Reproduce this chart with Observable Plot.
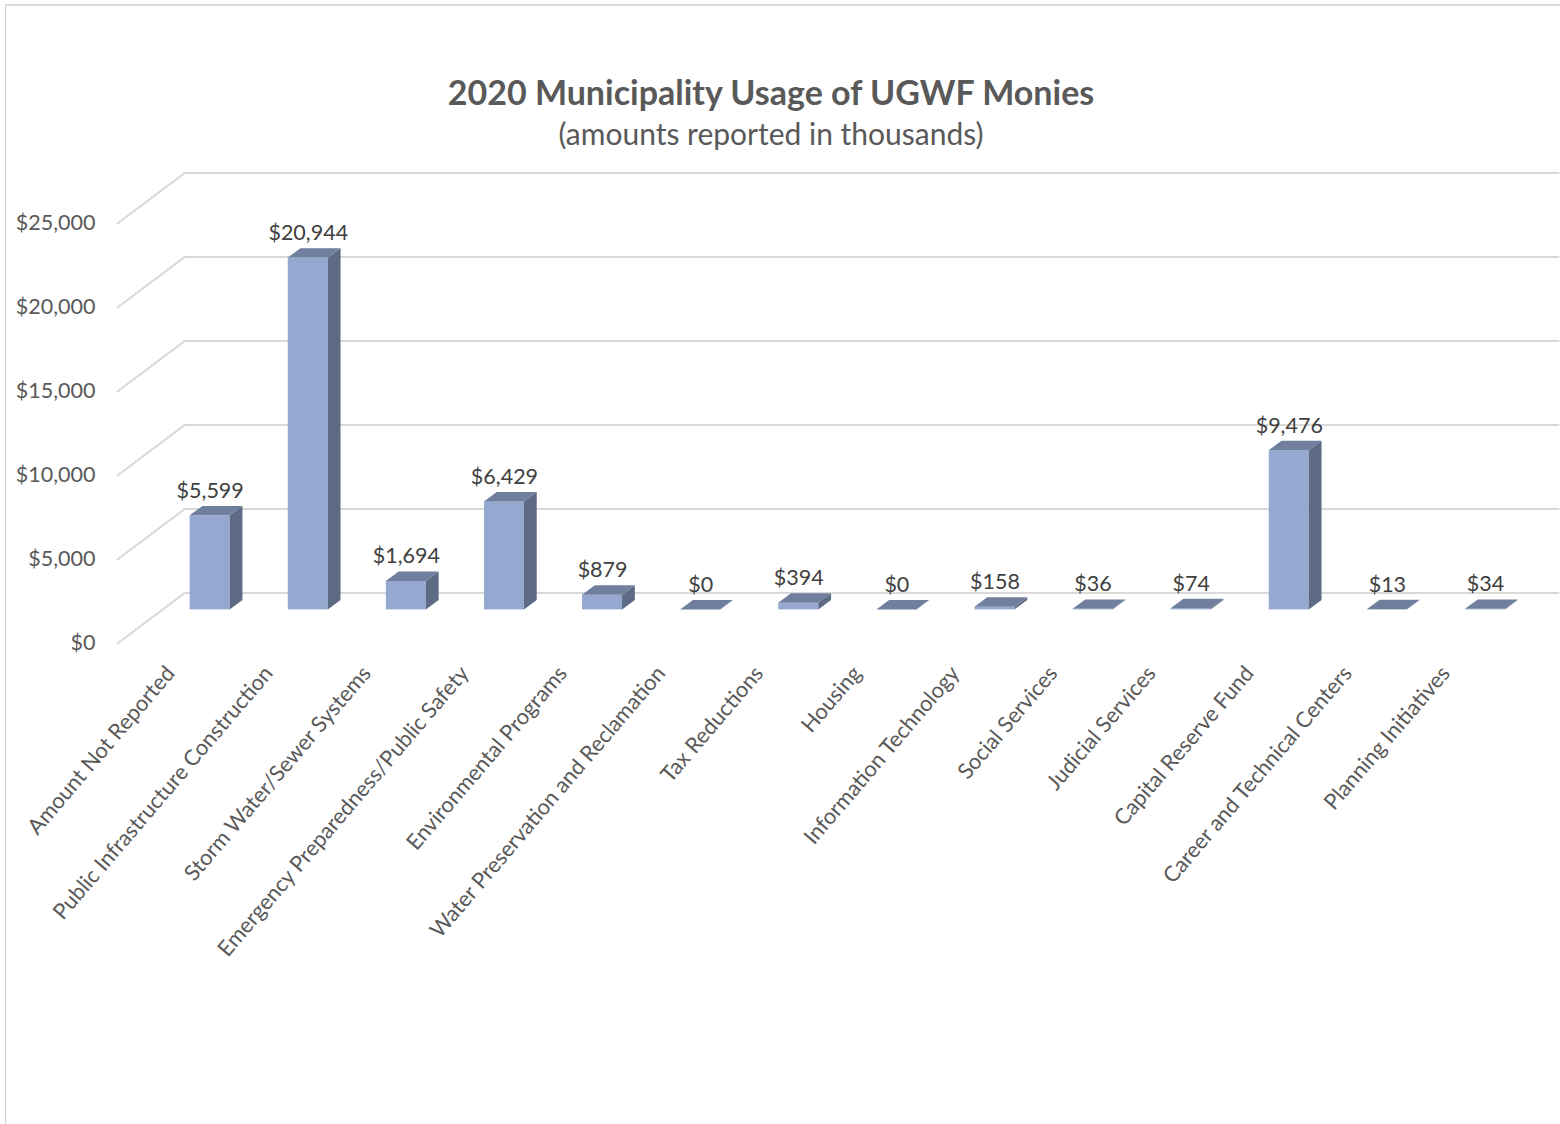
<!DOCTYPE html>
<html>
<head>
<meta charset="utf-8">
<script src="https://cdn.jsdelivr.net/npm/d3@7"></script>
<script src="https://cdn.jsdelivr.net/npm/@observablehq/plot@0.6"></script>
<style>
  html, body { margin: 0; padding: 0; background: #fff; }
  #wrap { position: relative; width: 1560px; height: 1124px; overflow: hidden; font-family: Lato, "Open Sans", sans-serif; }
  #frame { position: absolute; left: 5px; top: 4px; right: 0; bottom: 0; border-top: 2px solid #dadada; border-left: 1px solid #d0d0d0; }
  #title { position: absolute; left: 0; width: 1542px; top: 72px; text-align: center; font-size: 34px; font-weight: bold; color: #595959; line-height: 40px; }
  #subtitle { position: absolute; left: 0; width: 1542px; top: 115px; text-align: center; font-size: 30px; color: #595959; line-height: 36px; }
  #chart { position: absolute; left: 0; top: 0; }
</style>
</head>
<body>
<div id="wrap">
  <div id="frame"></div>
  <div id="chart"></div>
  <div id="title">2020 Municipality Usage of UGWF Monies</div>
  <div id="subtitle">(amounts reported in thousands)</div>
</div>
<script>
const categories = [
  "Amount Not Reported",
  "Public Infrastructure Construction",
  "Storm Water/Sewer Systems",
  "Emergency Preparedness/Public Safety",
  "Environmental Programs",
  "Water Preservation and Reclamation",
  "Tax Reductions",
  "Housing",
  "Information Technology",
  "Social Services",
  "Judicial Services",
  "Capital Reserve Fund",
  "Career and Technical Centers",
  "Planning Initiatives"
];
const values = [5599, 20944, 1694, 6429, 879, 0, 394, 0, 158, 36, 74, 9476, 13, 34];
const yTicks = [0, 5000, 10000, 15000, 20000, 25000];

// 3D projection settings (in scale units)
const WALL_DX = 0.683, WALL_DY = 3000;      // depth offset from front plane to back wall
const FRONT_K = 2 / 3;                        // bar front plane depth fraction
const BAR_DX = 0.13, BAR_DY = 560;            // bar depth offset
const HALF_W = 0.204;                         // half bar width
const X_LEFT = -0.489, X_RIGHT = 14.2;        // floor/wall extent

const bfx = WALL_DX * FRONT_K, bfy = WALL_DY * FRONT_K;
const bars = values.map((v, i) => ({i, v, cat: categories[i],
  xl: i + bfx - HALF_W, xr: i + bfx + HALF_W, y0: bfy, y1: v + bfy}));

const gridPts = yTicks.flatMap(t => [
  {t, x: X_LEFT, y: t},
  {t, x: X_LEFT + WALL_DX, y: t + WALL_DY},
  {t, x: X_RIGHT, y: t + WALL_DY}
]);
const sidePts = bars.flatMap(b => [
  {i: b.i, x: b.xr, y1: b.y0, y2: b.y1},
  {i: b.i, x: b.xr + BAR_DX, y1: b.y0 + BAR_DY, y2: b.y1 + BAR_DY}
]);
const topPts = bars.flatMap(b => [
  {i: b.i, y: b.y1, x1: b.xl, x2: b.xr},
  {i: b.i, y: b.y1 + BAR_DY, x1: b.xl + BAR_DX, x2: b.xr + BAR_DX}
]);
const fmt = d => "$" + d3.format(",")(d);

const plot = Plot.plot({
  width: 1560,
  height: 1124,
  margin: 0,
  style: {fontFamily: "Lato, 'Open Sans', sans-serif", background: "transparent", overflow: "visible"},
  x: {type: "linear", domain: [0, 13], range: [165, 165 + 98.1 * 13], axis: null},
  y: {type: "linear", domain: [0, 25000], range: [643, 223], axis: null},
  marks: [
    Plot.line(gridPts, {x: "x", y: "y", z: "t", stroke: "#d9d9d9", strokeWidth: 2}),
    Plot.text(yTicks, {x: X_LEFT, y: d => d, text: fmt, textAnchor: "end", dx: -22, fontSize: 21.5, fill: "#595959"}),
    Plot.rect(bars, {x1: "xl", x2: "xr", y1: "y0", y2: "y1", fill: "#95a9d0"}),
    Plot.areaY(sidePts, {x: "x", y1: "y1", y2: "y2", z: "i", fill: "#5d6b85", curve: "linear"}),
    Plot.areaX(topPts, {y: "y", x1: "x1", x2: "x2", z: "i", fill: "#6f7f9d", curve: "linear"}),
    Plot.text(bars, {x: b => b.i + bfx, y: "y1", text: b => fmt(b.v), dy: -25, fontSize: 21.5, fill: "#404040"}),
    Plot.text(bars, {x: "i", y: 0, text: "cat", rotate: -49.5, textAnchor: "end", dx: 5, dy: 26, fontSize: 21.8, fill: "#595959"})
  ]
});
document.getElementById("chart").appendChild(plot);
</script>
</body>
</html>
